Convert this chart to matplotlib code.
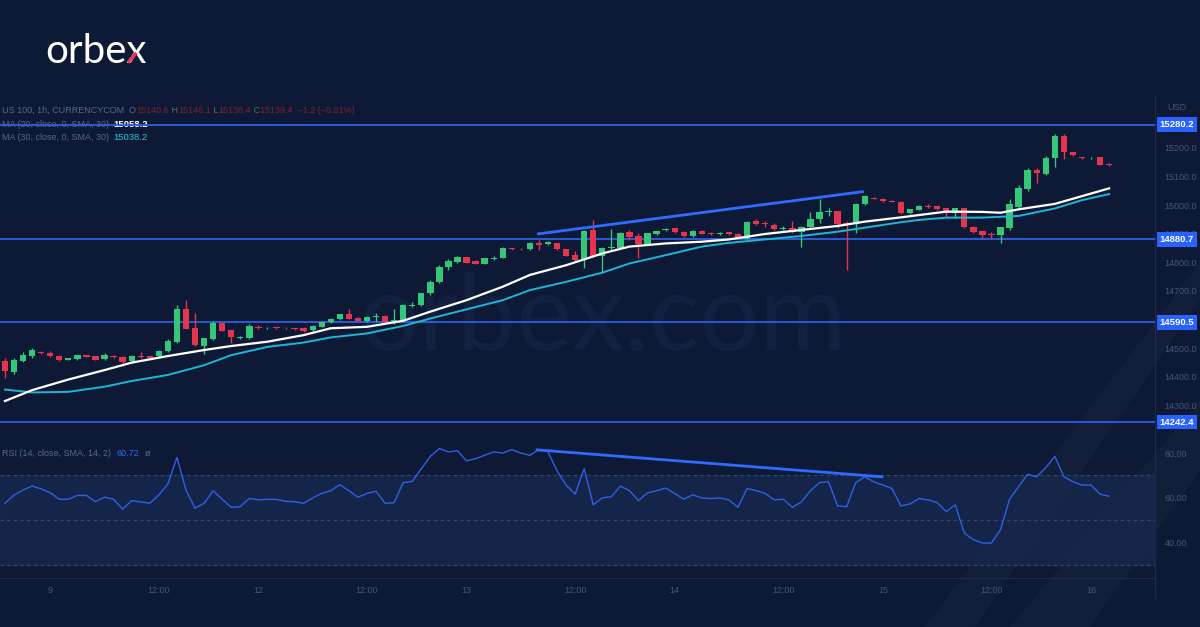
import numpy as np
import matplotlib.pyplot as plt
from matplotlib.lines import Line2D
from matplotlib.patches import Polygon
from matplotlib.transforms import blended_transform_factory

plt.rcParams['font.family'] = ['Liberation Sans', 'DejaVu Sans']

# ===== data (US 100, 1h) =====
opens = [14457, 14418, 14455, 14472, 14487, 14483, 14473, 14460, 14461, 14475,
         14472, 14461, 14473, 14471, 14454, 14472, 14472, 14472, 14489, 14522,
         14637, 14570, 14509, 14532, 14590, 14563, 14536, 14537, 14575, 14570,
         14573, 14572, 14570, 14572, 14564, 14575, 14592, 14602, 14618, 14607,
         14595, 14608, 14614, 14595, 14596, 14649, 14651, 14692, 14731, 14785,
         14800, 14817, 14803, 14795, 14813, 14815, 14849, 14848, 14845, 14869,
         14863, 14867, 14846, 14825, 14808, 14913, 14822, 14849, 14851, 14905,
         14892, 14863, 14899, 14913, 14919, 14906, 14892, 14910, 14904, 14899,
         14905, 14899, 14883, 14944, 14936, 14930, 14916, 14919, 14907, 14922,
         14950, 14976, 14978, 14938, 14934, 15004, 15025, 15022, 15015, 15012,
         14973, 14983, 14998, 14995, 14988, 14971, 14988, 14924, 14909, 14898,
         14895, 14919, 14992, 15056, 15122, 15108, 15163, 15241, 15184, 15166,
         15163, 15166, 15140.6]
highs = [14465, 14465, 14487, 14501, 14489, 14489, 14475, 14467, 14478, 14478,
         14474, 14482, 14475, 14473, 14476, 14488, 14474, 14493, 14531, 14651,
         14668, 14624, 14536, 14595, 14592, 14564, 14542, 14585, 14581, 14574,
         14575, 14574, 14572, 14574, 14581, 14594, 14605, 14620, 14636, 14609,
         14611, 14622, 14616, 14636, 14653, 14660, 14694, 14738, 14791, 14810,
         14821, 14819, 14807, 14816, 14822, 14855, 14851, 14850, 14870, 14878,
         14873, 14869, 14848, 14841, 14913, 14948, 14852, 14915, 14906, 14913,
         14901, 14903, 14911, 14919, 14921, 14908, 14912, 14912, 14906, 14905,
         14907, 14901, 14943, 14950, 14945, 14936, 14927, 14945, 14926, 14977,
         15020, 14988, 14980, 14945, 15008, 15036, 15027, 15024, 15018, 15014,
         14987, 15000, 15004, 14998, 14990, 14990, 14990, 14926, 14911, 14907,
         14925, 15020, 15070, 15128, 15128, 15171, 15248, 15248, 15186, 15169,
         15167, 15168, 15146.1]
lows = [14398, 14410, 14452, 14467, 14480, 14470, 14457, 14458, 14459, 14468,
        14458, 14459, 14466, 14438, 14452, 14465, 14465, 14470, 14487, 14517,
        14567, 14509, 14479, 14529, 14560, 14520, 14534, 14534, 14567, 14568,
        14569, 14568, 14564, 14558, 14562, 14573, 14590, 14600, 14601, 14595,
        14593, 14592, 14591, 14585, 14594, 14643, 14649, 14685, 14727, 14775,
        14797, 14796, 14794, 14793, 14808, 14814, 14843, 14843, 14843, 14843,
        14860, 14843, 14821, 14802, 14779, 14817, 14767, 14843, 14849, 14878,
        14814, 14861, 14897, 14911, 14903, 14889, 14890, 14898, 14897, 14897,
        14895, 14880, 14881, 14930, 14924, 14913, 14913, 14901, 14855, 14920,
        14936, 14962, 14919, 14775, 14901, 15001, 15020, 15012, 15009, 14970,
        14970, 14981, 14991, 14984, 14959, 14953, 14920, 14903, 14884, 14884,
        14866, 14913, 14985, 15050, 15076, 15104, 15134, 15159, 15170, 15161,
        15161, 15138, 15136.4]
closes = [14421, 14459, 14475, 14493, 14482, 14472, 14459, 14465, 14475, 14471,
          14460, 14475, 14468, 14452, 14474, 14469, 14467, 14489, 14526, 14636,
          14568, 14510, 14535, 14590, 14561, 14538, 14540, 14578, 14571, 14572,
          14571, 14570, 14566, 14561, 14579, 14592, 14603, 14618, 14604, 14597,
          14609, 14611, 14593, 14599, 14651, 14652, 14692, 14731, 14785, 14806,
          14819, 14799, 14795, 14814, 14816, 14849, 14845, 14845, 14869, 14860,
          14871, 14845, 14823, 14808, 14909, 14820, 14849, 14855, 14904, 14887,
          14863, 14901, 14909, 14917, 14905, 14891, 14910, 14900, 14899, 14904,
          14898, 14883, 14941, 14933, 14933, 14916, 14919, 14907, 14924, 14951,
          14976, 14978, 14934, 14935, 15004, 15033, 15022, 15014, 15011, 14973,
          14985, 14998, 14994, 14986, 14971, 14988, 14922, 14906, 14895, 14895,
          14922, 15004, 15058, 15122, 15111, 15163, 15241, 15186, 15173, 15163,
          15165, 15140, 15139.4]

rsi = [57.6, 61.3, 63.5, 65.3, 64.0, 62.3, 59.4, 59.4, 61.1, 61.1,
       58.3, 60.3, 59.4, 55.0, 58.8, 58.2, 57.6, 61.3, 66.2, 78.0,
       63.5, 55.4, 57.6, 63.2, 59.4, 55.8, 56.1, 59.8, 59.1, 59.4,
       59.3, 58.5, 58.3, 57.6, 60.0, 62.0, 63.2, 65.9, 63.2, 60.3,
       62.0, 62.9, 57.6, 57.9, 66.8, 67.3, 73.0, 78.5, 82.0, 80.5,
       81.0, 76.5, 77.5, 79.0, 80.5, 80.0, 81.5, 80.0, 79.0, 81.5,
       80.5, 72.0, 65.7, 61.7, 73.0, 56.9, 60.0, 60.5, 65.3, 63.2,
       58.8, 62.3, 63.2, 64.4, 62.0, 59.4, 61.4, 60.0, 59.7, 60.0,
       59.1, 55.8, 64.2, 63.2, 62.0, 59.1, 59.4, 55.8, 58.2, 63.2,
       66.8, 67.2, 56.4, 56.1, 66.8, 69.4, 67.2, 65.7, 64.2, 56.4,
       57.3, 59.7, 59.1, 57.9, 53.9, 56.9, 44.3, 41.4, 39.9, 39.9,
       45.8, 59.4, 65.0, 70.6, 69.4, 73.5, 78.5, 69.5, 67.2, 65.7,
       65.7, 61.7, 60.72]

# moving averages at these bars
ma_bars = [0, 3, 7, 11, 14, 18, 22, 25, 29, 33, 36, 40, 44, 47, 51, 55, 58, 62,
           66, 69, 73, 77, 80, 84, 88, 92, 95, 99, 101, 104, 108, 110, 112, 116,
           119, 122]
ma20 = [14316, 14354, 14391, 14424, 14450, 14473, 14494, 14508, 14523, 14546,
        14570, 14575, 14596, 14628, 14668, 14715, 14756, 14790, 14831, 14855,
        14866, 14872, 14880, 14899, 14913, 14927, 14942, 14957, 14965, 14977,
        14976, 14973, 14985, 15004, 15031, 15058.2]
ma30 = [14356, 14346, 14348, 14366, 14386, 14407, 14441, 14476, 14505, 14520,
        14538, 14552, 14578, 14604, 14636, 14668, 14703, 14732, 14764, 14796,
        14825, 14855, 14868, 14880, 14892, 14907, 14921, 14940, 14948, 14956,
        14956, 14959, 14962, 14988, 15017, 15038.2]

levels = [15280.2, 14880.7, 14590.5, 14242.4]
price_ticks = [14300, 14400, 14500, 14700, 14800, 14900, 15000, 15100, 15200]
rsi_ticks = [40, 60, 80]
trend_price_x = [58.8, 94.9]
trend_price_y = [14898.8, 15047.1]
trend_rsi_x = [58.8, 96.9]
trend_rsi_y = [81.4, 69.4]
xtick_bars = [5, 17, 28, 40, 51, 63, 74, 86, 97, 109, 120]
xtick_labels = ['9', '12:00', '12', '12:00', '13', '12:00', '14', '12:00', '15', '12:00', '16']

# ===== style =====
BG = '#0e1a35'
GREEN = '#35c777'
RED = '#e5344d'
LEVEL = '#2b5fe6'
AXC = '#1d2b4b'
TXT = '#46557a'
LEG = '#5a6786'
W, H = 1200, 627

fig = plt.figure(figsize=(12, 6.27), dpi=100, facecolor=BG)

# faint diagonal background streaks
for pts in ([(925, 627), (975, 627), (1200, 300), (1200, 262)],
            [(1010, 627), (1090, 627), (1200, 470), (1200, 400)]):
    fig.add_artist(Polygon([(px / W, 1 - py / H) for px, py in pts], closed=True,
                           transform=fig.transFigure, fc='white', ec='none',
                           alpha=0.025, zorder=0))

def pane(top, bottom):
    return [0, 1 - bottom / H, 1155 / W, (bottom - top) / H]

ax = fig.add_axes(pane(97, 440))
ar = fig.add_axes(pane(440, 578), sharex=ax)

for a in (ax, ar):
    a.set_facecolor('none')
    for s in a.spines.values():
        s.set_visible(False)
    a.spines['right'].set_visible(True)
    a.spines['right'].set_color(AXC)
    a.yaxis.tick_right()
    a.tick_params(axis='y', length=0, pad=7, labelsize=6.5, labelcolor=TXT)
ar.spines['bottom'].set_visible(True)
ar.spines['bottom'].set_color(AXC)
ax.tick_params(axis='x', bottom=False, labelbottom=False)

# ===== price pane =====
x = np.arange(len(closes))
o = np.array(opens)
c = np.array(closes)
cols = np.where(c >= o, GREEN, RED)
body_lo = np.minimum(o, c)
body_h = np.maximum(np.abs(c - o), 2.5)

ax.vlines(x, lows, highs, colors=cols, lw=1, zorder=4)
ax.bar(x, body_h, bottom=body_lo, width=0.7, color=cols, linewidth=0, zorder=5)

ax.plot(ma_bars, ma30, color='#1eb6d4', lw=1.4, zorder=6)
ax.plot(ma_bars, ma20, color='white', lw=1.6, zorder=6)
ax.plot(trend_price_x, trend_price_y, color='#2f6bff', lw=2, zorder=7, solid_capstyle='butt')

btr = blended_transform_factory(ax.transAxes, ax.transData)
for lv in levels:
    ax.axhline(lv, color=LEVEL, lw=1.3, zorder=3)
    ax.text(1.004, lv, f'{lv:.1f}', transform=btr, ha='left', va='center',
            color='white', fontsize=6.8, fontweight='bold', clip_on=False, zorder=8,
            bbox=dict(boxstyle='square,pad=0.3', fc='#2962ff', ec='none'))

ax.set_yticks(price_ticks, [f'{v:.1f}' for v in price_ticks])
ax.set_ylim(14180, 15377)
ax.set_xlim(-0.55, 127.07)

# watermark
ax.text(0.522, (440 - 350) / 343, 'orbex.com', transform=ax.transAxes, ha='center',
        va='baseline', fontsize=76, family='Lato', color='#132140', zorder=0)

# legend
lg1 = ax.text(0.002, 0.962, 'US 100, 1h, CURRENCYCOM  O', transform=ax.transAxes,
              fontsize=6.5, color=LEG, va='center', zorder=2)
prev = lg1
for part, col in [('15140.6', '#7a2230'), (' H', LEG), ('15146.1', '#7a2230'),
                  (' L', LEG), ('15136.4', '#7a2230'), (' C', LEG),
                  ('15139.4  \u22121.2 (\u22120.01%)', '#7a2230')]:
    prev = ax.annotate(part, xy=(1, 0), xycoords=prev, va='bottom', ha='left',
                       fontsize=6.5, color=col, zorder=2)
lg2 = ax.text(0.002, 0.921, 'MA (20, close, 0, SMA, 30)', transform=ax.transAxes,
              fontsize=6.5, color=LEG, va='center', zorder=2)
ax.annotate('15058.2', xy=(1, 0), xycoords=lg2, xytext=(3, 0), textcoords='offset points',
            va='bottom', fontsize=6.8, color='white', fontweight='bold', zorder=2)
lg3 = ax.text(0.002, 0.882, 'MA (30, close, 0, SMA, 30)', transform=ax.transAxes,
              fontsize=6.5, color=LEG, va='center', zorder=2)
ax.annotate('15038.2', xy=(1, 0), xycoords=lg3, xytext=(3, 0), textcoords='offset points',
            va='bottom', fontsize=6.8, color='#26c6da', zorder=2)

# ===== RSI pane =====
ar.axhspan(30, 70, color='#17274d', alpha=0.85, zorder=0)
for lv in (70, 50, 30):
    ar.axhline(lv, color='#3a4868', lw=0.8, ls=(0, (3, 3)), zorder=1)
ar.plot(x, rsi, color='#2f5fe6', lw=1, zorder=3)
ar.plot(trend_rsi_x, trend_rsi_y, color='#2f6bff', lw=2, zorder=4)
ar.set_ylim(24.3, 85.8)
ar.set_yticks(rsi_ticks, [f'{v:.2f}' for v in rsi_ticks])
ar.set_xticks(xtick_bars, xtick_labels)
ar.tick_params(axis='x', length=0, pad=6, labelsize=6.5, labelcolor=TXT)

r1 = ar.text(0.002, 0.9, 'RSI (14, close, SMA, 14, 2)', transform=ar.transAxes,
             fontsize=6.5, color=LEG, va='center')
r2 = ar.annotate('60.72', xy=(1, 0), xycoords=r1, xytext=(4, 0), textcoords='offset points',
                 va='bottom', fontsize=6.5, color='#2f6bff')
ar.annotate('\u00f8', xy=(1, 0), xycoords=r2, xytext=(4, 0), textcoords='offset points',
            va='bottom', fontsize=6.5, color=LEG)

# ===== frame bits =====
fig.add_artist(Line2D([1155 / W, 1155 / W], [1 - 598 / H, 1 - 578 / H],
                      transform=fig.transFigure, color=AXC, lw=1))
fig.text(1167 / W, 1 - 107 / H, 'USD', fontsize=6.5, color=TXT, va='center')

# logo, with the red stroke on the x
logo = fig.text(45 / W, 1 - 63 / H, 'orbex', fontsize=29, color='white',
                family='Lato', va='baseline')
stem = fig.text(45 / W, 1 - 63 / H, 'orbe', fontsize=29, family='Lato',
                va='baseline', alpha=0)
fig.canvas.draw()
xa = stem.get_window_extent().x1
xb = logo.get_window_extent().x1
xh = 0.5 * 29 * 100 / 72
base = H - 63
fig.add_artist(Line2D([(xa + 1.5) / W, (xa + xb) / 2 / W],
                      [(base + 0.5) / H, (base + xh / 2) / H],
                      transform=fig.transFigure, color='#e5344d', lw=2.4,
                      solid_capstyle='butt', zorder=10))

fig.savefig('out.png', dpi=100, facecolor=BG)
